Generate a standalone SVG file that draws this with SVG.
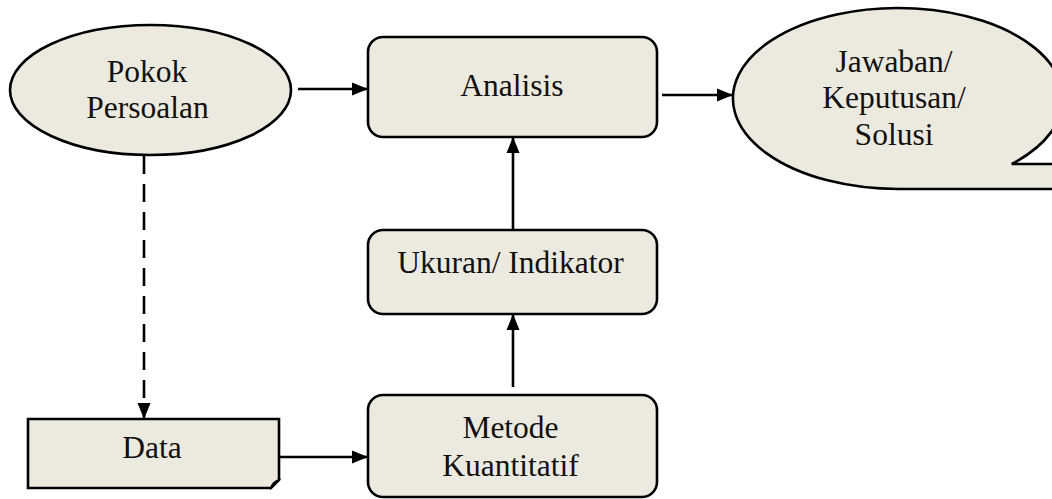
<svg xmlns="http://www.w3.org/2000/svg" width="1052" height="499" viewBox="0 0 1052 499">
<style>
.shape{fill:#ECEADF;stroke:#000;stroke-width:2.6}
.lbl{font-size:31.5px;fill:#111;text-anchor:middle}
.conn{stroke:#000;stroke-width:2.6;fill:none}
.dash{stroke-dasharray:18 10}
</style>
<defs>
<marker id="ah" markerWidth="16" markerHeight="16" refX="15" refY="8" orient="auto" markerUnits="userSpaceOnUse">
<path d="M0,1.5 L16,8 L0,14.5 Z" fill="#000"/>
</marker>
</defs>
<rect width="1052" height="499" fill="#fff"/>
<g id="connectors">
<line class="conn" x1="298" y1="89" x2="367" y2="89" marker-end="url(#ah)"/>
<line class="conn" x1="662" y1="95" x2="732" y2="95" marker-end="url(#ah)"/>
<line class="conn" x1="513" y1="230" x2="513" y2="138" marker-end="url(#ah)"/>
<line class="conn" x1="513" y1="387" x2="513" y2="315" marker-end="url(#ah)"/>
<line class="conn dash" x1="144" y1="156" x2="144" y2="418" marker-end="url(#ah)"/>
<line class="conn" x1="280" y1="457" x2="367" y2="457" marker-end="url(#ah)"/>
</g>
<g font-family="Liberation Serif, Times New Roman, DejaVu Serif, serif">
<g id="node-pokok">
<ellipse class="shape" cx="150.5" cy="90" rx="140.5" ry="65"/>
<text class="lbl" x="147" y="82">Pokok</text>
<text class="lbl" x="147.5" y="118">Persoalan</text>
</g>
<g id="node-analisis">
<rect class="shape" x="368" y="37" width="289" height="100" rx="15"/>
<text class="lbl" x="512" y="96">Analisis</text>
</g>
<g id="node-jawaban">
<path class="shape" d="M1011.8,164 A165,90.5 0 1 0 898,189 L1070,189 L1070,164 Z"/>
<text class="lbl" x="894" y="72">Jawaban/</text>
<text class="lbl" x="894" y="108">Keputusan/</text>
<text class="lbl" x="894" y="145">Solusi</text>
</g>
<g id="node-ukuran">
<rect class="shape" x="368" y="230" width="289" height="84" rx="15"/>
<text class="lbl" x="510.5" y="273">Ukuran/ Indikator</text>
</g>
<g id="node-metode">
<rect class="shape" x="368" y="395" width="289" height="102" rx="15"/>
<text class="lbl" x="510.5" y="438">Metode</text>
<text class="lbl" x="510.5" y="476">Kuantitatif</text>
</g>
<g id="node-data">
<path class="shape" d="M28,419 H279 V480 L271,488 H28 Z"/>
<path d="M279,480 L271,488 Q272,482 279,480 Z" fill="#000" stroke="#000" stroke-width="1.5"/>
<text class="lbl" x="152" y="458">Data</text>
</g>
</g>
</svg>
